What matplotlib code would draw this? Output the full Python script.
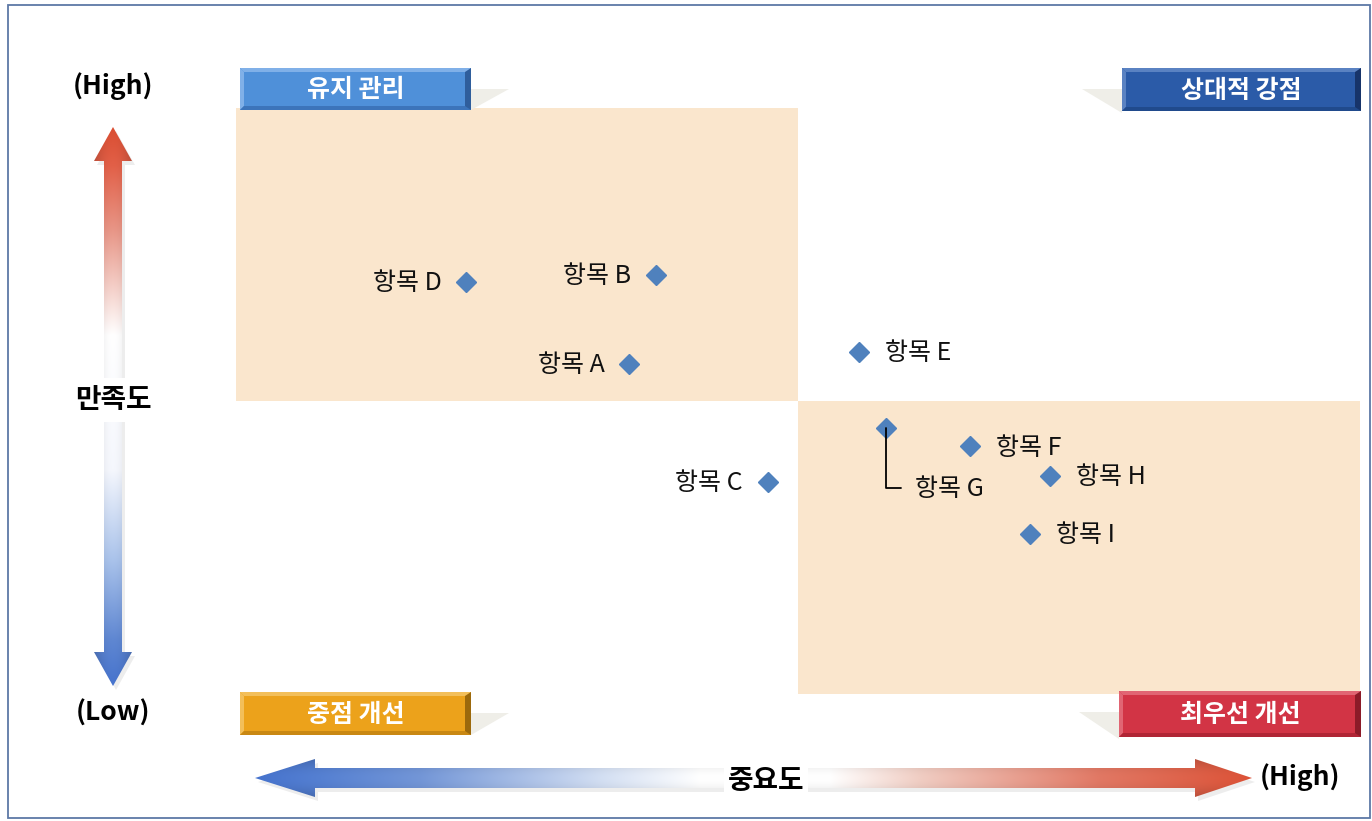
import numpy as np
import matplotlib
matplotlib.use('Agg')
import matplotlib.pyplot as plt
from matplotlib.patches import Polygon, Rectangle

plt.rcParams['font.family'] = ['Noto Sans CJK KR', 'DejaVu Sans']

# data (importance x, satisfaction y on a 0-100 scale, midpoint 50)
items = ['항목 A', '항목 B', '항목 C', '항목 D', '항목 E', '항목 F', '항목 G', '항목 H', '항목 I']
importance = [35.0, 37.4, 47.3, 20.5, 55.4, 65.3, 57.8, 72.4, 70.6]
satisfaction = [56.3, 71.5, 36.2, 70.3, 58.4, 42.3, 45.4, 37.2, 27.3]
label_side = ['left', 'left', 'left', 'left', 'right', 'right', 'leader', 'right', 'right']

quadrant_names = ['유지 관리', '상대적 강점', '중점 개선', '최우선 개선']
x_axis_name = '중요도'
y_axis_name = '만족도'

W, H = 1372, 821
fig = plt.figure(figsize=(W / 100, H / 100), dpi=100)

# scatter area in pixels: x 236..1360, y 108..694
ax = fig.add_axes([236 / W, (H - 694) / H, 1124 / W, 586 / H])
ax.set_xlim(0, 100)
ax.set_ylim(0, 100)
ax.axis('off')
shade = '#fae6cd'
ax.add_patch(Rectangle((0, 50), 50, 50, facecolor=shade, edgecolor='none', zorder=0))
ax.add_patch(Rectangle((50, 0), 50, 50, facecolor=shade, edgecolor='none', zorder=0))
ax.plot(importance, satisfaction, linestyle='none', marker='D', markersize=10,
        color='#4f81bd', zorder=3)

lab_fs = 18
for name, x, y, side in zip(items, importance, satisfaction, label_side):
    if side == 'left':
        ax.annotate(name, (x, y), xytext=(-18, -1), textcoords='offset points',
                    ha='right', va='center', fontsize=lab_fs, color='#111111', zorder=4)
    elif side == 'right':
        ax.annotate(name, (x, y), xytext=(19, -1), textcoords='offset points',
                    ha='left', va='center', fontsize=lab_fs, color='#111111', zorder=4)
    else:
        ax.annotate(name, (x, y), xytext=(21, -44), textcoords='offset points',
                    ha='left', va='center', fontsize=lab_fs, color='#111111', zorder=4,
                    arrowprops=dict(arrowstyle='-', color='black', lw=1.3,
                                    connectionstyle='angle,angleA=0,angleB=90,rad=0',
                                    relpos=(0, 0.55), shrinkA=8, shrinkB=0))

# overlay in pixel coordinates for decorations
ov = fig.add_axes([0, 0, 1, 1])
ov.set_xlim(0, W)
ov.set_ylim(H, 0)
ov.axis('off')
ov.patch.set_alpha(0)
ov.set_zorder(5)


def gradient(pos, stops_pos, stops_col):
    cols = np.array(stops_col, dtype=float) / 255
    return np.stack([np.interp(pos, stops_pos, cols[:, i]) for i in range(3)], axis=-1)


def grad_arrow(poly, extent, img):
    shadow = Polygon(np.array(poly) + [3, 4], closed=True, facecolor='black',
                     edgecolor='none', alpha=0.07, zorder=1)
    ov.add_patch(shadow)
    im = ov.imshow(img, extent=extent, origin='upper', aspect='auto',
                   interpolation='bilinear', zorder=2)
    clip = Polygon(poly, closed=True, facecolor='none', edgecolor='none')
    ov.add_patch(clip)
    im.set_clip_path(clip)


# vertical arrow (satisfaction)
cx, top, bot = 113, 127, 686
vpoly = [(cx, top), (cx + 19, top + 34), (cx + 9, top + 34), (cx + 9, bot - 34),
         (cx + 19, bot - 34), (cx, bot), (cx - 19, bot - 34), (cx - 9, bot - 34),
         (cx - 9, top + 34), (cx - 19, top + 34)]
ys = np.linspace(top, bot, 400)
col = gradient(ys, [127, 165, 230, 335, 470, 560, 640, 686],
               [(218, 78, 50), (226, 96, 72), (232, 150, 135), (255, 255, 255),
                (245, 247, 253), (170, 195, 235), (95, 135, 210), (70, 115, 205)])
u = np.linspace(-1, 1, 40)
shadev = 1 - 0.18 * u ** 2
vimg = col[:, None, :] * shadev[None, :, None]
grad_arrow(vpoly, [cx - 20, cx + 20, bot, top], vimg)

# horizontal arrow (importance)
cy, lft, rgt = 778, 255, 1252
hpoly = [(lft, cy), (lft + 60, cy - 19), (lft + 60, cy - 10), (rgt - 57, cy - 10),
         (rgt - 57, cy - 19), (rgt, cy), (rgt - 57, cy + 19), (rgt - 57, cy + 10),
         (lft + 60, cy + 10), (lft + 60, cy + 19)]
xs = np.linspace(lft, rgt, 600)
colh = gradient(xs, [255, 320, 420, 600, 700, 830, 920, 1100, 1252],
                [(70, 115, 205), (85, 128, 210), (115, 150, 215), (210, 222, 242),
                 (255, 255, 255), (255, 255, 255), (240, 205, 195), (225, 120, 100),
                 (220, 82, 55)])
v = np.linspace(-1, 1, 40)
shadeh = 1 - 0.18 * v ** 2
himg = shadeh[:, None, None] * colh[None, :, :]
grad_arrow(hpoly, [lft, rgt, cy + 20, cy - 20], himg)

# axis captions
cap_fs = 19
ov.text(113, 86, '(High)', ha='center', va='center', fontsize=cap_fs, fontweight='bold', zorder=6)
ov.text(113, 713, '(Low)', ha='center', va='center', fontsize=cap_fs, fontweight='bold', zorder=6)
ov.text(113, 400, y_axis_name, ha='center', va='center', fontsize=20, fontweight='bold', zorder=6,
        bbox=dict(facecolor='white', edgecolor='none', pad=6))
ov.text(766, 781, x_axis_name, ha='center', va='center', fontsize=20, fontweight='bold', zorder=6,
        bbox=dict(facecolor='white', edgecolor='none', pad=3))
ov.text(1300, 777, '(High)', ha='center', va='center', fontsize=cap_fs, fontweight='bold', zorder=6)


def bevel_box(x0, y0, x1, y1, face, light, dark, darker, text, shadow_side):
    b = 4
    if shadow_side == 'right':
        sh = [(x1, y0 + 21), (x1 + 38, y0 + 21), (x1, y1)]
    else:
        sh = [(x0, y0 + 21), (x0 - 40, y0 + 21), (x0, y1 + 2)]
    ov.add_patch(Polygon(sh, closed=True, facecolor='#efeee8', edgecolor='none', zorder=3))
    ov.add_patch(Rectangle((x0, y0), x1 - x0, y1 - y0, facecolor=face, edgecolor='none', zorder=4))
    ov.add_patch(Polygon([(x0, y0), (x1, y0), (x1 - b, y0 + b), (x0 + b, y0 + b)],
                         facecolor=light, edgecolor='none', zorder=4))
    ov.add_patch(Polygon([(x0, y0), (x0 + b, y0 + b), (x0 + b, y1 - b), (x0, y1)],
                         facecolor=light, edgecolor='none', zorder=4))
    ov.add_patch(Polygon([(x0, y1), (x0 + b, y1 - b), (x1 - b, y1 - b), (x1, y1)],
                         facecolor=dark, edgecolor='none', zorder=4))
    ov.add_patch(Polygon([(x1, y0), (x1, y1), (x1 - b - 2, y1 - b), (x1 - b - 2, y0 + b)],
                         facecolor=darker, edgecolor='none', zorder=4))
    ov.text((x0 + x1) / 2, (y0 + y1) / 2 + 1, text, ha='center', va='center', color='white',
            fontsize=18, fontweight='bold', zorder=5)


bevel_box(240, 68, 471, 110, '#4f90d9', '#80b0e8', '#3c74ba', '#2f5e9c', quadrant_names[0], 'right')
bevel_box(1122, 68, 1361, 111, '#2b5ba8', '#5a82c2', '#204a8c', '#17346a', quadrant_names[1], 'left')
bevel_box(240, 692, 471, 735, '#eca21b', '#f3bf5a', '#c98813', '#9c690c', quadrant_names[2], 'right')
bevel_box(1119, 691, 1361, 737, '#d23445', '#e16573', '#b02535', '#8c1b28', quadrant_names[3], 'left')

# outer frame
ov.add_patch(Rectangle((8, 5), 1362, 813, facecolor='none', edgecolor='#5d78a6', lw=1.3, zorder=7))

fig.savefig('out.png', dpi=100)
